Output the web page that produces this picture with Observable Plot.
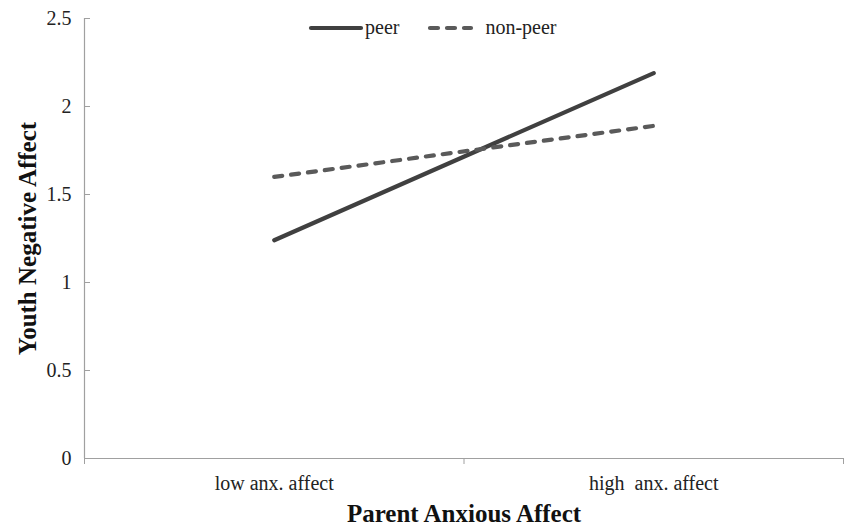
<!DOCTYPE html>
<html>
<head>
<meta charset="utf-8">
<script src="https://cdn.jsdelivr.net/npm/d3@7"></script>
<script src="https://cdn.jsdelivr.net/npm/@observablehq/plot@0.6"></script>
<style>
  html, body { margin: 0; padding: 0; background: #fff; }
  #wrap { position: relative; width: 848px; height: 526px; font-family: "Liberation Serif", serif; }
  #legend { position: absolute; top: 16px; left: 308px; display: flex; align-items: center; font-size: 20px; color: #222; }
  #legend .item { display: flex; align-items: center; }
  #legend svg { display: block; }
</style>
</head>
<body>
<div id="wrap">
  <div id="chart"></div>
  <div id="legend"></div>
</div>
<script>
const categories = ["low anx. affect", "high  anx. affect"];
const seriesNames = ["peer", "non-peer"];
const peer = [1.24, 2.19];
const nonPeer = [1.60, 1.89];
const yTicks = [0, 0.5, 1, 1.5, 2, 2.5];

const colors = {"peer": "#404040", "non-peer": "#5a5a5a"};
const dashes = {"peer": null, "non-peer": "8,9"};

const rows = [];
categories.forEach((c, i) => {
  rows.push({series: "peer", idx: i + 0.5, value: peer[i]});
  rows.push({series: "non-peer", idx: i + 0.5, value: nonPeer[i]});
});

const boundaries = d3.range(categories.length + 1);
const centers = categories.map((c, i) => i + 0.5);

const chart = Plot.plot({
  width: 848,
  height: 526,
  marginLeft: 84,
  marginRight: 5,
  marginTop: 18,
  marginBottom: 68,
  style: {fontFamily: "Liberation Serif, serif", fontSize: "20px", color: "#222", background: "#fff"},
  x: {domain: [0, categories.length]},
  y: {domain: [0, 2.5]},
  marks: [
    Plot.axisY({ticks: yTicks, tickSize: 0, tickPadding: 13, tickFormat: d => String(d), label: null, fontSize: 20, fill: "#222"}),
    Plot.axisY({ticks: yTicks, tickSize: -6, tickFormat: () => "", label: null, stroke: "#a0a0a0"}),
    Plot.ruleX([0], {stroke: "#a0a0a0", strokeWidth: 1.2}),
    Plot.ruleY([0], {stroke: "#a0a0a0", strokeWidth: 1.2}),
    Plot.axisX({ticks: boundaries, tickSize: 6, tickFormat: () => "", label: null, stroke: "#a0a0a0"}),
    Plot.axisX({ticks: centers, tickSize: 0, tickPadding: 17, tickFormat: d => categories[Math.floor(d)], label: null, fontSize: 20, fill: "#222"}),
    Plot.text(["Parent Anxious Affect"], {frameAnchor: "bottom", lineAnchor: "middle", dy: 55, fontSize: 25, fontWeight: "bold", fill: "#111"}),
    Plot.text(["Youth Negative Affect"], {frameAnchor: "left", textAnchor: "middle", dx: -57, rotate: -90, fontSize: 25, fontWeight: "bold", fill: "#111"}),
    ...seriesNames.map(s => Plot.line(rows.filter(r => r.series === s), {
      x: "idx", y: "value",
      stroke: colors[s], strokeWidth: 4.2, strokeLinecap: "round",
      strokeDasharray: dashes[s]
    }))
  ]
});
document.getElementById("chart").appendChild(chart);

// legend
const legend = d3.select("#legend");
seriesNames.forEach((s, i) => {
  const item = legend.append("div").attr("class", "item").style("margin-right", i === 0 ? "28px" : "0");
  const sv = item.append("svg").attr("width", 56).attr("height", 20);
  sv.append("line").attr("x1", 3).attr("x2", i === 0 ? 53 : 44).attr("y1", 10).attr("y2", 10)
    .attr("stroke", colors[s]).attr("stroke-width", 4.2).attr("stroke-linecap", "round")
    .attr("stroke-dasharray", dashes[s]);
  item.append("span").text(s).style("margin-left", i === 0 ? "1px" : "2px");
});
</script>
</body>
</html>
